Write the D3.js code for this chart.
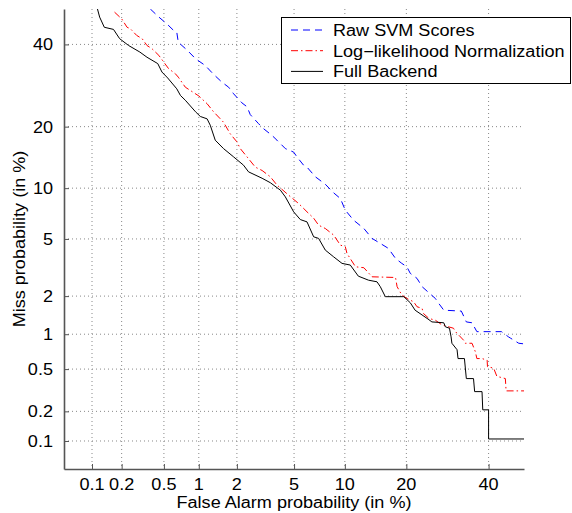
<!DOCTYPE html>
<html>
<head>
<meta charset="utf-8">
<script src="https://cdn.jsdelivr.net/npm/d3@7"></script>
<style>
  body { margin: 0; background: #fff; }
  text { font-family: "Liberation Sans", Arial, sans-serif; font-size: 16px; }
</style>
</head>
<body>
<div id="my_dataviz"></div>
<script>
// tick labels (in %)
var tickValues = [0.1, 0.2, 0.5, 1, 2, 5, 10, 20, 40];

// series (false alarm %, miss %)
var seriesNames = ["Raw SVM Scores", "Log\u2212likelihood Normalization", "Full Backend"];

var svmFa = [0.376,0.45,0.53,0.61,0.65,0.67,0.80,0.94,1.13,1.32,1.54,1.73,1.89,2.18,2.38,2.51,2.88,3.12,3.57,3.86,4.39,4.97,5.22,5.74,6.03,6.78,7.76,8.67,9.45,10.06,11.15,12.6,13.85,15.2,16.6,17.9,19.1,20.1,20.8,22.2,23.3,24.8,26.3,27.1,28.3,32.7,34.0,35.5,36.8,43.6,45.6,46.1,48.5,50];
var svmMiss = [50,47.7,45.8,43.9,43.4,40.6,38.4,36.1,34.3,32.0,30.0,28.8,27.2,25.1,24.2,22.5,20.6,19.6,18.3,17.4,15.9,15.3,14.5,13.2,12.9,11.5,10.5,9.42,8.76,7.5,6.54,5.82,5.04,4.68,4.34,3.72,3.44,3.26,2.93,2.70,2.35,2.12,1.92,1.76,1.56,1.535,1.26,1.24,1.05,1.05,0.95,0.93,0.84,0.83];

var llrFa = [0.17,0.20,0.226,0.243,0.28,0.315,0.35,0.39,0.45,0.51,0.55,0.63,0.67,0.77,0.85,1.0,1.17,1.32,1.58,1.78,2.0,2.12,2.38,2.73,3.05,3.48,3.86,4.61,5.35,6.03,6.62,7.09,7.76,8.67,9.45,10.06,10.27,11.4,12.6,13.85,17.9,18.2,19.1,20.1,21.5,22.2,23.3,23.6,24.8,26.3,27.9,30.7,31.2,33.3,33.7,35.5,36.4,36.8,38.2,39.6,39.7,41.4,42.3,44.7,44.9,50];
var llrMiss = [49.1,47.2,44.8,44.4,42.5,41.6,39.7,38.8,37.0,34.8,33.5,32.2,31.3,28.8,28.0,26.7,24.9,23.1,20.9,18.6,17.1,15.9,14.5,12.9,12.4,11.5,10.4,9.15,8.2,7.34,6.73,6.1,5.82,5.29,4.56,4.45,4.02,3.26,3.21,2.77,2.74,2.35,2.04,1.92,1.81,1.66,1.61,1.47,1.345,1.30,1.19,1.12,1.05,0.89,0.84,0.84,0.71,0.62,0.62,0.60,0.525,0.51,0.43,0.41,0.315,0.315];

var fullFa = [0.114,0.12,0.134,0.166,0.191,0.234,0.30,0.35,0.44,0.48,0.54,0.65,0.70,0.77,0.94,1.03,1.17,1.24,1.36,1.58,1.89,2.24,2.44,3.05,3.48,4.07,4.39,4.97,5.48,6.03,6.62,7.09,7.76,8.67,9.65,10.7,11.8,13.3,14.65,15.2,16.06,19.5,20.8,21.8,24.4,25.5,28.3,28.7,29.7,30.1,30.3,31.6,31.85,33.5,34.0,35.9,36.2,38.2,38.4,40.0,40.0,50];
var fullMiss = [50,47.7,44.8,44.2,41.6,39.7,37.9,36.5,34.8,32.6,31.1,28.4,26.8,25.7,23.1,22.1,21.6,20.3,17.4,15.9,14.5,13.2,12.2,11.3,10.7,9.75,8.95,7.34,6.6,6.39,5.16,5.04,4.23,3.81,3.44,3.35,2.80,2.62,2.55,2.35,1.98,1.98,1.78,1.56,1.345,1.26,1.24,1.15,1.12,0.95,0.84,0.74,0.62,0.62,0.41,0.41,0.31,0.31,0.207,0.207,0.105,0.105];

// normal deviate (probit) of a probability, Acklam's approximation
function probit(p) {
  var a = [-39.69683028665376, 220.9460984245205, -275.9285104469687, 138.3577518672690, -30.66479806614716, 2.506628277459239];
  var b = [-54.47609879822406, 161.5858368580409, -155.6989798598866, 66.80131188771972, -13.28068155288572];
  var c = [-0.007784894002430293, -0.3223964580411365, -2.400758277161838, -2.549732539343734, 4.374664141464968, 2.938163982698783];
  var d = [0.007784695709041462, 0.3224671290700398, 2.445134137142996, 3.754408661907416];
  var q, r;
  if (p < 0.02425) {
    q = Math.sqrt(-2 * Math.log(p));
    return (((((c[0]*q+c[1])*q+c[2])*q+c[3])*q+c[4])*q+c[5]) / ((((d[0]*q+d[1])*q+d[2])*q+d[3])*q+1);
  } else if (p > 1 - 0.02425) {
    q = Math.sqrt(-2 * Math.log(1 - p));
    return -(((((c[0]*q+c[1])*q+c[2])*q+c[3])*q+c[4])*q+c[5]) / ((((d[0]*q+d[1])*q+d[2])*q+d[3])*q+1);
  }
  q = p - 0.5;
  r = q * q;
  return (((((a[0]*r+a[1])*r+a[2])*r+a[3])*r+a[4])*r+a[5])*q / (((((b[0]*r+b[1])*r+b[2])*r+b[3])*r+b[4])*r+1);
}

var W = 572, H = 513;
var margin = {top: 9, left: 64};
var plotW = 460, plotH = 460;
// the original's text is a bit wider than Liberation Sans
var stretch = "scale(1.13,1)";

var svg = d3.select("#my_dataviz")
  .append("svg")
  .attr("width", W)
  .attr("height", H);

var g = svg.append("g")
  .attr("transform", "translate(" + margin.left + "," + margin.top + ")");

// probit scales, percent in
var xLin = d3.scaleLinear().domain([probit(0.0005), probit(0.5)]).range([0, plotW]);
var yLin = d3.scaleLinear().domain([probit(0.0005), probit(0.5)]).range([plotH, 0]);
var x = function (v) { return xLin(probit(v / 100)); };
var y = function (v) { return yLin(probit(v / 100)); };
var tickPos = tickValues.map(function (v) { return probit(v / 100); });

// dotted grid
g.append("g").selectAll("line")
  .data(tickValues).enter().append("line")
  .attr("x1", x).attr("x2", x)
  .attr("y1", 0).attr("y2", plotH)
  .attr("stroke", "#888").attr("stroke-width", 1)
  .attr("stroke-dasharray", "1,3");
g.append("g").selectAll("line")
  .data(tickValues).enter().append("line")
  .attr("y1", y).attr("y2", y)
  .attr("x1", 0).attr("x2", plotW)
  .attr("stroke", "#888").attr("stroke-width", 1)
  .attr("stroke-dasharray", "1,3");

// axes (only left and bottom), labels drawn separately
var gx = g.append("g").attr("transform", "translate(0," + plotH + ")")
  .call(d3.axisBottom(xLin).tickValues(tickPos).tickFormat("").tickSizeInner(-5).tickSizeOuter(0));
var gy = g.append("g")
  .call(d3.axisLeft(yLin).tickValues(tickPos).tickFormat("").tickSizeInner(-5).tickSizeOuter(0));
[gx, gy].forEach(function (ax) {
  ax.select(".domain").attr("stroke", "#555").attr("stroke-width", 1.6);
  ax.selectAll(".tick line").attr("stroke", "#555");
});

g.append("g").selectAll("text")
  .data(tickValues).enter().append("text")
  .attr("transform", function (d) { return "translate(" + x(d) + "," + (plotH + 21) + ")" + stretch; })
  .attr("text-anchor", "middle")
  .text(function (d) { return d; });
g.append("g").selectAll("text")
  .data(tickValues).enter().append("text")
  .attr("transform", function (d) { return "translate(-11," + (y(d) + 6) + ")" + stretch; })
  .attr("text-anchor", "end")
  .text(function (d) { return d; });

// curves
svg.append("defs").append("clipPath").attr("id", "clip")
  .append("rect").attr("width", plotW).attr("height", plotH);

var series = [
  {fa: svmFa, miss: svmMiss, color: "#0000ff", dash: "7,5"},
  {fa: llrFa, miss: llrMiss, color: "#ff0000", dash: "7,3,1.5,3"},
  {fa: fullFa, miss: fullMiss, color: "#000000", dash: null}
];

var line = d3.line()
  .x(function (d) { return x(d[0]); })
  .y(function (d) { return y(d[1]); });

var curves = g.append("g").attr("clip-path", "url(#clip)");
series.forEach(function (s) {
  var pts = s.fa.map(function (f, i) { return [f, s.miss[i]]; });
  curves.append("path")
    .datum(pts)
    .attr("d", line)
    .attr("fill", "none")
    .attr("stroke", s.color)
    .attr("stroke-width", 1)
    .attr("stroke-dasharray", s.dash);
});

// legend
var legend = svg.append("g");
legend.append("rect")
  .attr("x", 281.5).attr("y", 17.5)
  .attr("width", 289).attr("height", 66)
  .attr("fill", "#fff").attr("stroke", "#000").attr("stroke-width", 1);
series.forEach(function (s, i) {
  var ly = 30 + i * 20.7;
  legend.append("line")
    .attr("x1", 291).attr("x2", 323)
    .attr("y1", ly).attr("y2", ly)
    .attr("stroke", s.color).attr("stroke-width", 1)
    .attr("stroke-dasharray", s.dash);
  legend.append("text")
    .attr("transform", "translate(333," + (ly + 6) + ")" + stretch)
    .text(seriesNames[i]);
});

// axis titles
svg.append("text")
  .attr("transform", "translate(294,508)" + stretch)
  .attr("text-anchor", "middle")
  .text("False Alarm probability (in %)");
svg.append("text")
  .attr("transform", "translate(25,239) rotate(-90)" + stretch)
  .attr("text-anchor", "middle")
  .text("Miss probability (in %)");
</script>
</body>
</html>
